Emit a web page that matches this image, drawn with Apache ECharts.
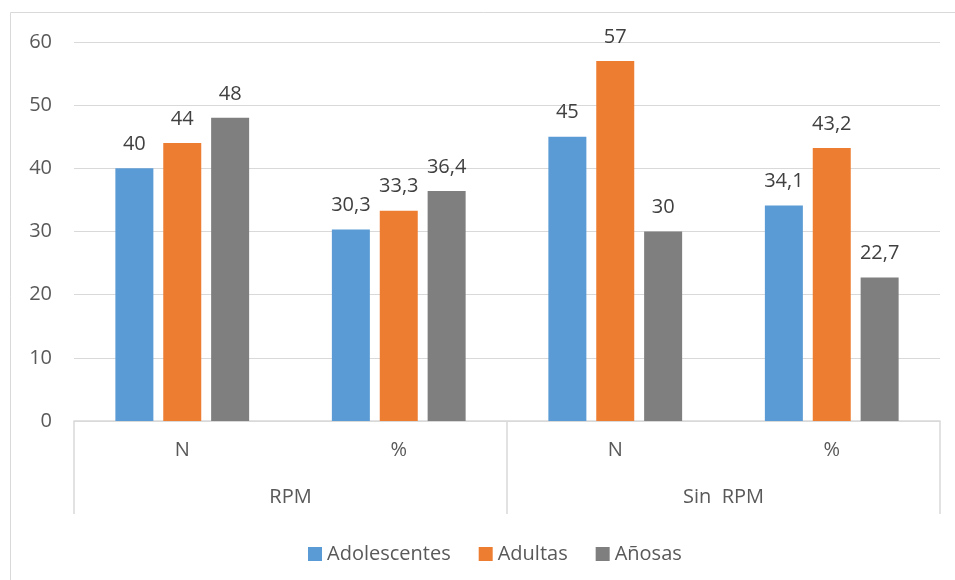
<!DOCTYPE html>
<html>
<head>
<meta charset="utf-8">
<script src="https://cdn.jsdelivr.net/npm/echarts@6/dist/echarts.min.js"></script>
<style>
  html, body { margin: 0; padding: 0; background: #ffffff; }
  #chart { width: 955px; height: 580px; }
</style>
</head>
<body>
<div id="chart"></div>
<script>
// Inner categories (measure) and outer groups
const subCategories = ['N', '%', 'N', '%'];
const groups = ['RPM', 'Sin  RPM'];
const seriesNames = ['Adolescentes', 'Adultas', 'Añosas'];

const adolescentes = [40, 30.3, 45, 34.1];
const adultas = [44, 33.3, 57, 43.2];
const anosas = [48, 36.4, 30, 22.7];

const colors = ['#5B9BD5', '#ED7D31', '#7F7F7F'];
const FONT = '"Open Sans", "Noto Sans", sans-serif';
const FS = 20;

const fmt = v => String(v).replace('.', ',');

function barSeries(name, data, color) {
  return {
    name: name,
    type: 'bar',
    data: data,
    barWidth: 38,
    barGap: '26%',
    itemStyle: { color: color },
    label: {
      show: true,
      position: 'top',
      distance: 14,
      color: '#404040',
      fontSize: FS,
      fontFamily: FONT,
      formatter: p => fmt(p.value)
    }
  };
}

const chart = echarts.init(document.getElementById('chart'), null, { renderer: 'canvas' });

chart.setOption({
  animation: false,
  color: colors,
  graphic: [{
    type: 'rect',
    shape: { x: 10.5, y: 12.5, width: 980, height: 620 },
    style: { fill: 'none', stroke: '#D9D9D9', lineWidth: 1 },
    silent: true,
    z: -1
  }],
  grid: { left: 74, right: 15, top: 42, bottom: 159, containLabel: false },
  legend: {
    data: seriesNames,
    left: 303,
    top: 539,
    itemWidth: 14,
    itemHeight: 14,
    itemGap: 28,
    icon: 'rect',
    textStyle: { color: '#595959', fontSize: FS, fontFamily: FONT }
  },
  xAxis: [{
    type: 'category',
    data: subCategories,
    position: 'bottom',
    axisLine: { show: true, lineStyle: { color: '#D9D9D9', width: 1.5 } },
    axisTick: { show: false },
    axisLabel: { color: '#595959', fontSize: FS, fontFamily: FONT, margin: 19 },
    splitLine: { show: false }
  }, {
    type: 'category',
    data: groups,
    position: 'bottom',
    gridIndex: 0,
    axisLine: { show: false },
    axisTick: { show: true, length: 93, inside: false, lineStyle: { color: '#D9D9D9', width: 1.5 } },
    axisLabel: { color: '#595959', fontSize: FS, fontFamily: FONT, margin: 66 },
    splitLine: { show: false }
  }],
  yAxis: {
    type: 'value',
    min: 0,
    max: 60,
    interval: 10,
    axisLine: { show: false },
    axisTick: { show: false },
    axisLabel: { color: '#595959', fontSize: FS, fontFamily: FONT, margin: 22 },
    splitLine: { lineStyle: { color: '#D9D9D9', width: 1 } }
  },
  series: [
    barSeries(seriesNames[0], adolescentes, colors[0]),
    barSeries(seriesNames[1], adultas, colors[1]),
    barSeries(seriesNames[2], anosas, colors[2])
  ]
});
</script>
</body>
</html>
